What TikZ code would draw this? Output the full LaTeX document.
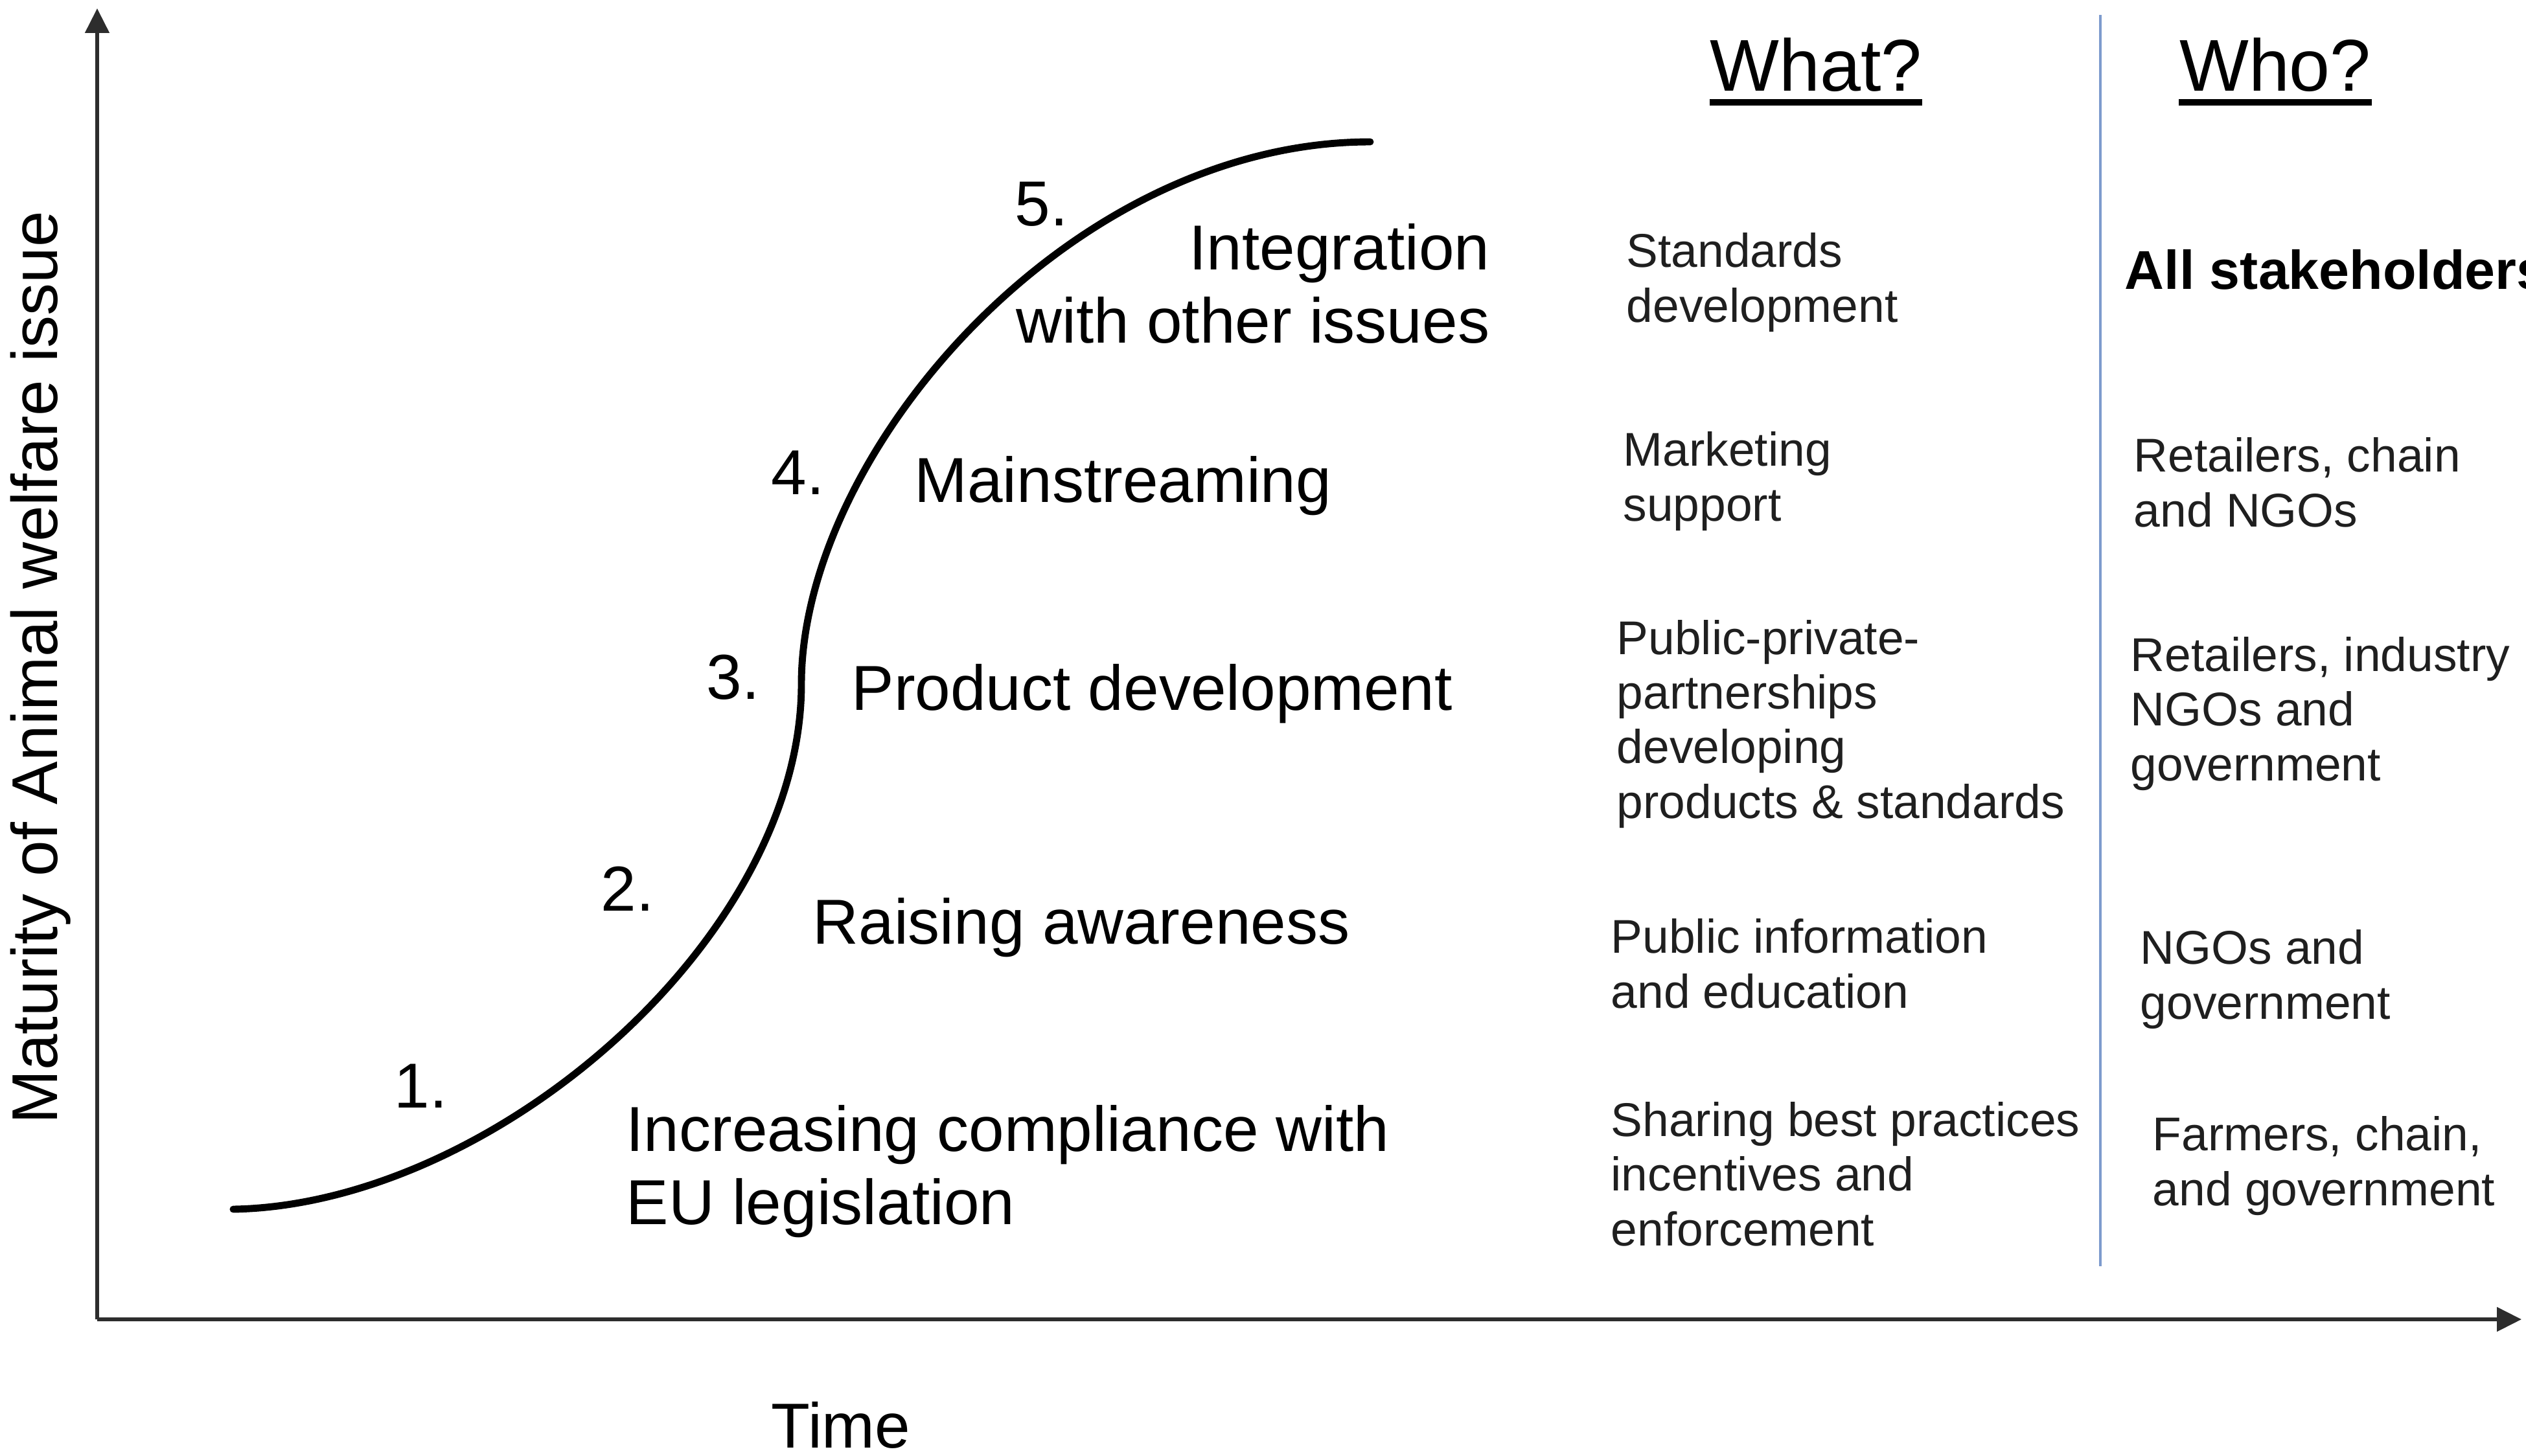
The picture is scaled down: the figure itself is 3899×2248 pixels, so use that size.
\documentclass[tikz,border=0pt]{standalone}
\usepackage{fontspec}
\setmainfont{Liberation Sans}
\usetikzlibrary{arrows.meta}
\definecolor{divblue}{RGB}{125,155,205}
\definecolor{axisgray}{RGB}{45,45,45}
\begin{document}
\begin{tikzpicture}[x=0.01cm,y=-0.01cm,
  stage/.style={font=\fontsize{27.9pt}{31.9pt}\selectfont, inner sep=0pt, anchor=base west},
  num/.style={stage},
  what/.style={font=\fontsize{20.8pt}{23.9pt}\selectfont, inner sep=0pt, anchor=base west, align=left, text=black!88},
  hdr/.style={font=\fontsize{32.2pt}{36pt}\selectfont, inner sep=0pt, anchor=base},
  axis/.style={line width=1.5pt, draw=axisgray, -{Triangle[length=10.8pt,width=10.5pt]}},
  uline/.style={line width=2.8pt},
]
\useasboundingbox (0,0) rectangle (3899,2248);

% axes
\coordinate (O) at (150,2037);
\coordinate (ytop) at (150,13);
\coordinate (xend) at (3892,2037);
\draw[axis] (O) -- (ytop);
\draw[axis] (O) -- (xend);
\node[font=\fontsize{28.4pt}{32pt}\selectfont, inner sep=0pt, rotate=90, anchor=base] (ylab) at (88,1031) {Maturity of Animal welfare issue};
\node[font=\fontsize{27.9pt}{31.9pt}\selectfont, inner sep=0pt, anchor=base] (xlab) at (1298,2235) {Time};

% S-curve
\coordinate (c0) at (360,1867);
\coordinate (c1) at (1237,1056);
\coordinate (c2) at (2115,219);
\draw[line width=3.1pt, line cap=round] (c0) .. controls (760,1860) and (1237,1450) .. (c1)
  .. controls (1237,700) and (1650,219) .. (c2);

% stages (multi-line nodes: base = last line's baseline)
\node[num] (n5) at (1566,348) {5.};
\node[stage, anchor=base east, align=right] (s5) at (2300,529) {Integration\\with other issues};
\node[num] (n4) at (1190,763) {4.};
\node[stage] (s4) at (1411,775) {Mainstreaming};
\node[num] (n3) at (1090,1079) {3.};
\node[stage] (s3) at (1314,1096) {Product development};
\node[num] (n2) at (927,1406) {2.};
\node[stage] (s2) at (1254,1457) {Raising awareness};
\node[num] (n1) at (608,1710) {1.};
\node[stage, align=left] (s1) at (966,1890) {Increasing compliance with\\EU legislation};

% headers
\node[hdr] (what) at (2803,140) {What?};
\draw[uline] ([yshift=-5.1pt]what.base west) -- ([yshift=-5.1pt]what.base east);
\node[hdr] (who) at (3512,140) {Who?};
\draw[uline] ([yshift=-5.1pt]who.base west) -- ([yshift=-5.1pt]who.base east);

% divider
\coordinate (dtop) at (3242,23);
\coordinate (dbot) at (3242,1955);
\draw[divblue, line width=1.2pt] (dtop) -- (dbot);

% what column
\node[what] (w5) at (2510,497) {Standards\\development};
\node[what] (w4) at (2505,804) {Marketing\\support};
\node[what] (w3) at (2495,1263) {Public-private-\\partnerships\\developing\\products \& standards};
\node[what] (w2) at (2486,1556) {Public information\\and education};
\node[what] (w1) at (2486,1923) {Sharing best practices\\incentives  and\\enforcement};

% who column
\node[what, font=\bfseries\fontsize{24pt}{28pt}\selectfont, text=black] (h5) at (3279,446) {All stakeholders};
\node[what] (h4) at (3293,813) {Retailers, chain\\and NGOs};
\node[what] (h3) at (3288,1205) {Retailers, industry\\NGOs  and\\government};
\node[what] (h2) at (3303,1573) {NGOs and\\government};
\node[what] (h1) at (3322,1861) {Farmers, chain,\\and government};
\end{tikzpicture}
\end{document}
